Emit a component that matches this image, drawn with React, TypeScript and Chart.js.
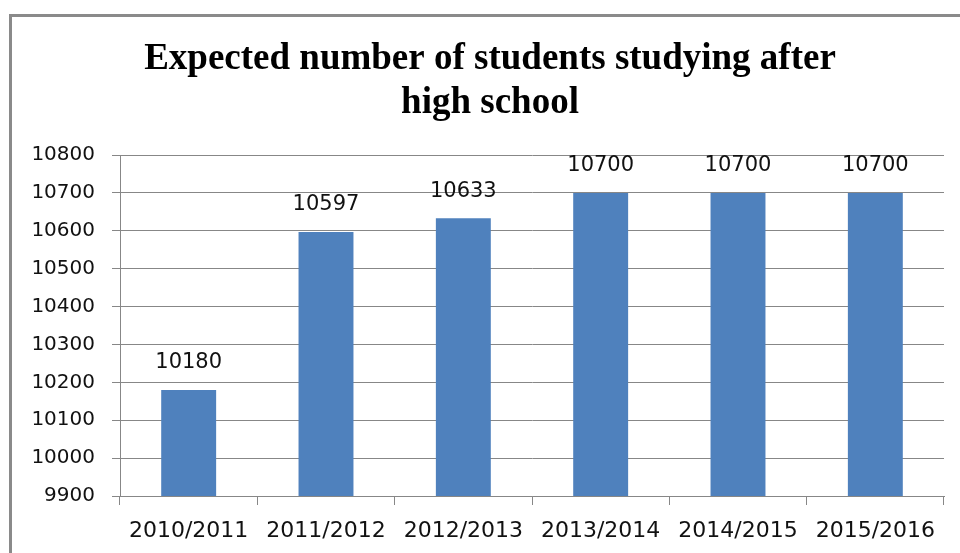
import React, { useEffect, useRef } from "react";
import { Chart, registerables } from "chart.js";

Chart.register(...registerables);

const titleLines = ["Expected number of students studying after", "high school"];
const categories = ["2010/2011", "2011/2012", "2012/2013", "2013/2014", "2014/2015", "2015/2016"];
const students = [10180, 10597, 10633, 10700, 10700, 10700];
const yMin = 9900;
const yMax = 10800;
const yStep = 100;

const GRID = "#878787";
const SANS = "'DejaVu Sans', sans-serif";

const borderPlugin = {
  id: "outerBorder",
  beforeDraw(chart: any) {
    const ctx = chart.ctx;
    ctx.save();
    ctx.fillStyle = "#ffffff";
    ctx.fillRect(0, 0, chart.width, chart.height);
    ctx.strokeStyle = "#8a8a8a";
    ctx.lineWidth = 3;
    ctx.strokeRect(10.5, 15.5, chart.width + 50, chart.height + 50);
    ctx.restore();
  },
};

const titlePlugin = {
  id: "centeredTitle",
  afterDraw(chart: any) {
    const ctx = chart.ctx;
    ctx.save();
    ctx.font = "bold 37px 'Liberation Serif', 'Times New Roman', serif";
    ctx.fillStyle = "#000";
    ctx.textAlign = "center";
    ctx.textBaseline = "alphabetic";
    titleLines.forEach((line, i) => {
      ctx.fillText(line, 490, 69 + i * 44);
    });
    ctx.restore();
  },
};

const valueLabelPlugin = {
  id: "valueLabels",
  afterDatasetsDraw(chart: any) {
    const ctx = chart.ctx;
    const meta = chart.getDatasetMeta(0);
    const data = chart.data.datasets[0].data as number[];
    ctx.save();
    ctx.font = `21px ${SANS}`;
    ctx.fillStyle = "#111";
    ctx.textAlign = "center";
    ctx.textBaseline = "middle";
    meta.data.forEach((bar: any, i: number) => {
      ctx.fillText(String(data[i]), bar.x, bar.y - 27);
    });
    ctx.restore();
  },
};

export default function App() {
  const canvasRef = useRef<HTMLCanvasElement | null>(null);

  useEffect(() => {
    document.body.style.margin = "0";
    const canvas = canvasRef.current;
    if (!canvas) return;
    const chart = new Chart(canvas, {
      type: "bar",
      data: {
        labels: categories,
        datasets: [
          {
            data: students,
            backgroundColor: "#4F81BD",
            borderWidth: 0,
            categoryPercentage: 1,
            barPercentage: 0.4,
          },
        ],
      },
      options: {
        responsive: false,
        animation: false,
        devicePixelRatio: 1,
        layout: { padding: { left: 0, right: 16, top: 155, bottom: 0 } },
        plugins: {
          legend: { display: false },
          tooltip: { enabled: false },
          title: { display: false },
        },
        scales: {
          x: {
            grid: {
              display: true,
              drawOnChartArea: false,
              drawTicks: true,
              tickLength: 9,
              color: GRID,
              offset: true,
            },
            border: { display: true, color: GRID, width: 1 },
            ticks: { color: "#111", font: { family: SANS, size: 22 }, padding: 13, maxRotation: 0, autoSkip: false },
            afterFit(scale: any) {
              scale.height = 57;
            },
          },
          y: {
            min: yMin,
            max: yMax,
            grid: { color: GRID, tickLength: 8, drawTicks: true },
            border: { display: true, color: GRID, width: 1 },
            ticks: {
              stepSize: yStep,
              color: "#111",
              font: { family: SANS, size: 20 },
              padding: 17,
              callback: (v: any) => String(v),
            },
            afterFit(scale: any) {
              scale.width = 120;
            },
          },
        },
      },
      plugins: [borderPlugin, titlePlugin, valueLabelPlugin],
    });
    return () => chart.destroy();
  }, []);

  return (
    <div style={{ position: "absolute", left: 0, top: 0, width: 960, height: 553 }}>
      <canvas ref={canvasRef} width={960} height={553} style={{ width: 960, height: 553, display: "block" }} />
    </div>
  );
}
